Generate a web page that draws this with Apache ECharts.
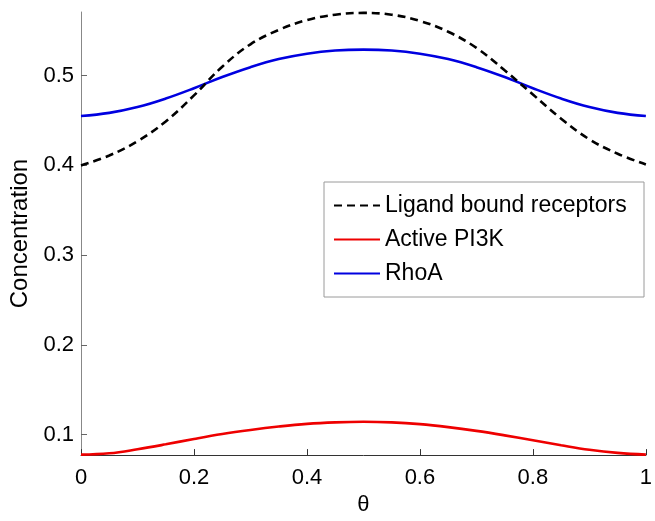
<!DOCTYPE html>
<html>
<head>
<meta charset="utf-8">
<script src="https://cdn.jsdelivr.net/npm/echarts@6/dist/echarts.min.js"></script>
<style>
html,body{margin:0;padding:0;background:#fff;}
#chart{width:655px;height:521px;}
</style>
</head>
<body>
<div id="chart"></div>
<script>
var theta = [0, 0.05, 0.1, 0.15, 0.2, 0.25, 0.3, 0.35, 0.4, 0.45, 0.5, 0.55, 0.6, 0.65, 0.7, 0.75, 0.8, 0.85, 0.9, 0.95, 1.0];
var ligandBound = [0.400, 0.411, 0.427, 0.449, 0.478, 0.510, 0.535, 0.551, 0.562, 0.568, 0.570, 0.568, 0.561, 0.549, 0.531, 0.506, 0.479, 0.452, 0.429, 0.413, 0.401];
var activePI3K = [0.0775, 0.079, 0.0835, 0.089, 0.095, 0.1005, 0.105, 0.1088, 0.1118, 0.1135, 0.1142, 0.1135, 0.1115, 0.1082, 0.104, 0.099, 0.0935, 0.088, 0.083, 0.0795, 0.0775];
var rhoA = [0.455, 0.4585, 0.465, 0.4745, 0.486, 0.4985, 0.5095, 0.5185, 0.5245, 0.528, 0.529, 0.528, 0.5245, 0.5185, 0.5095, 0.4985, 0.486, 0.4745, 0.465, 0.4585, 0.455];
var seriesNames = ['Ligand bound receptors', 'Active PI3K', 'RhoA'];
var yTicks = [0.1, 0.2, 0.3, 0.4, 0.5];

function pairs(vals){ return theta.map(function(t,i){ return [t, vals[i]]; }); }

var font = 'Liberation Sans, Arial, sans-serif';
var chart = echarts.init(document.getElementById('chart'), null, {renderer:'canvas'});
chart.setOption({
  animation: false,
  backgroundColor: '#fff',
  grid: {left: 79, right: 2, top: 12, bottom: 60},
  legend: {
    orient: 'vertical',
    left: 324, top: 182,
    padding: [12, 9, 12, 9],
    itemGap: 11,
    itemWidth: 46, itemHeight: 14,
    borderColor: '#9a9a9a', borderWidth: 1,
    backgroundColor: '#fff',
    data: seriesNames,
    itemStyle: {opacity: 0},
    textStyle: {fontFamily: font, fontSize: 23, color: '#000', width: 250, lineHeight: 22}
  },
  xAxis: {
    type: 'value', min: 0, max: 1, interval: 0.2,
    name: 'θ', nameLocation: 'middle', nameGap: 32,
    nameTextStyle: {fontFamily: font, fontSize: 22, color: '#000'},
    axisLine: {show: true, lineStyle: {color: '#333', width: 1}},
    axisTick: {show: true, inside: true, length: 6, lineStyle: {color: '#333'}},
    axisLabel: {fontFamily: font, fontSize: 22, color: '#000', margin: 12},
    splitLine: {show: false}
  },
  yAxis: {
    type: 'value', min: 0.077, max: 0.571,
    name: 'Concentration', nameLocation: 'middle', nameGap: 49,
    nameTextStyle: {fontFamily: font, fontSize: 24, color: '#000'},
    axisLine: {show: true, lineStyle: {color: '#888', width: 1}},
    axisTick: {show: true, inside: true, length: 6, lineStyle: {color: '#666'}, customValues: yTicks},
    axisLabel: {fontFamily: font, fontSize: 22, color: '#000', margin: 7, customValues: yTicks},
    splitLine: {show: false}
  },
  series: [
    {name: seriesNames[0], type: 'line', data: pairs(ligandBound), smooth: 0.4, symbol: 'none',
     lineStyle: {color: '#000', width: 2.6, type: [8, 5]}, itemStyle: {color: '#000'}, z: 3},
    {name: seriesNames[1], type: 'line', data: pairs(activePI3K), smooth: 0.4, symbol: 'none',
     lineStyle: {color: '#ee0000', width: 2.6}, itemStyle: {color: '#ee0000'}, z: 2},
    {name: seriesNames[2], type: 'line', data: pairs(rhoA), smooth: 0.4, symbol: 'none',
     lineStyle: {color: '#0000e0', width: 2.6}, itemStyle: {color: '#0000e0'}, z: 2}
  ]
});
</script>
</body>
</html>
